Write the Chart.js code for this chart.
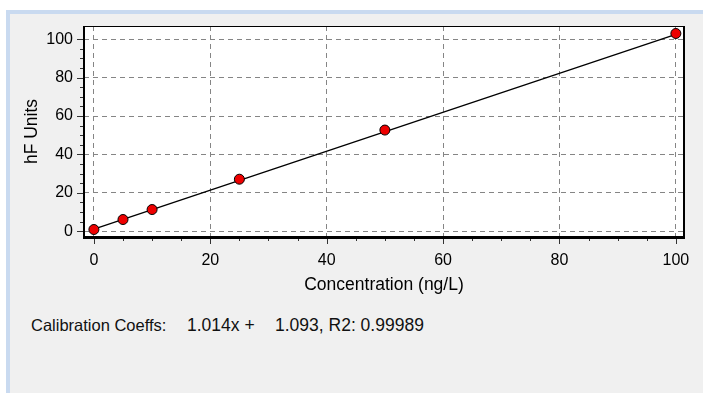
<!DOCTYPE html>
<html>
<head>
<meta charset="utf-8">
<script src="https://cdn.jsdelivr.net/npm/chart.js@4"></script>
<style>
  html, body { margin: 0; padding: 0; background: #fff; }
  body { width: 706px; height: 393px; position: relative; overflow: hidden; font-family: 'Liberation Sans', Arial, sans-serif; }
  .panel { position: absolute; left: 6px; top: 10px; width: 697px; height: 383px; background: #f0f0f0;
           border-top: 4px solid #c9daf0; border-left: 4px solid #c9daf0; box-sizing: border-box; }
  .wrap { position: absolute; left: 0; top: 0; width: 706px; height: 300px; }
  .coef { position: absolute; top: 316px; font-size: 16.5px; color: #111; white-space: pre; }
  .num { font-size: 17.5px; top: 315px; }
</style>
</head>
<body>
<div class="panel"></div>
<div class="wrap"><canvas id="cal"></canvas></div>
<div class="coef" style="left:31px">Calibration Coeffs:</div>
<div class="coef num" style="left:187px">1.014x +</div>
<div class="coef num" style="left:275px">1.093, R2: 0.99989</div>
<script>
  // standards (ng/L) and measured response
  const concentrations = [0, 5, 10, 25, 50, 100];
  const responses = [0.9, 6.1, 11.3, 27.1, 52.7, 103];
  // fitted calibration line end points
  const fitX = [0, 100];
  const fitY = [1.09, 102.5];
  const xTicks = [0, 20, 40, 60, 80, 100];
  const yTicks = [0, 20, 40, 60, 80, 100];
  const minorStep = 5;

  const $ = (id) => document.getElementById(id);
  const tickFont = { family: "'Liberation Sans', Arial, sans-serif", size: 16 };
  const titleFont = { family: "'Liberation Sans', Arial, sans-serif", size: 17.5 };

  // white plot area + frame + outside tick marks
  const frame = {
    id: 'frame',
    beforeDraw(c) {
      const a = c.chartArea, ctx = c.ctx;
      ctx.save();
      ctx.fillStyle = '#fff';
      ctx.fillRect(a.left, a.top, a.right - a.left, a.bottom - a.top);
      ctx.restore();
    },
    afterDraw(c) {
      const a = c.chartArea, ctx = c.ctx;
      const xs = c.scales.x, ys = c.scales.y;
      ctx.save();
      ctx.strokeStyle = '#333';
      ctx.lineWidth = 1;
      ctx.beginPath();
      for (let v = 0; v <= 100; v += minorStep) {
        const len = v % 20 === 0 ? 7 : 4;
        const px = Math.round(xs.getPixelForValue(v)) + 0.5;
        ctx.moveTo(px, a.bottom); ctx.lineTo(px, a.bottom + len);
        const py = Math.round(ys.getPixelForValue(v)) + 0.5;
        ctx.moveTo(a.left, py); ctx.lineTo(a.left - len, py);
      }
      ctx.stroke();
      ctx.fillStyle = '#000';
      ctx.fillRect(a.left, a.top, a.right - a.left, 1);
      ctx.fillRect(a.left - 1, a.top, 2, a.bottom - a.top + 2);
      ctx.fillRect(a.right - 1, a.top, 2, a.bottom - a.top + 2);
      ctx.fillRect(a.left - 1, a.bottom - 1, a.right - a.left + 2, 3);
      ctx.restore();
    },
  };

  new Chart($('cal'), {
    type: 'scatter',
    data: {
      datasets: [
        {
          type: 'line',
          data: fitX.map((x, i) => ({ x, y: fitY[i] })),
          borderColor: '#000',
          borderWidth: 1.3,
          pointRadius: 0,
          fill: false,
          order: 2,
        },
        {
          data: concentrations.map((x, i) => ({ x, y: responses[i] })),
          backgroundColor: '#ee0000',
          borderColor: '#000',
          borderWidth: 1,
          pointRadius: 5,
          order: 1,
        },
      ],
    },
    options: {
      responsive: true,
      maintainAspectRatio: false,
      animation: false,
      layout: { padding: { top: 26, right: 22, left: 0, bottom: 0 } },
      plugins: { legend: { display: false }, tooltip: { enabled: false } },
      scales: {
        x: {
          type: 'linear',
          min: -1.7, max: 101.4,
          afterBuildTicks: (s) => { s.ticks = xTicks.map((value) => ({ value })); },
          afterFit: (s) => { s.height = 63; },
          border: { display: false, dash: [5, 4] },
          grid: { color: '#858585', lineWidth: 1, drawTicks: false },
          ticks: { color: '#000', font: tickFont, padding: 14, maxRotation: 0 },
          title: { display: true, text: 'Concentration (ng/L)', color: '#000',
                   font: titleFont, padding: { top: 0, bottom: 4 } },
        },
        y: {
          min: -3, max: 106.9,
          afterBuildTicks: (s) => { s.ticks = yTicks.map((value) => ({ value })); },
          afterFit: (s) => { s.width = 84; },
          border: { display: false, dash: [5, 4] },
          grid: { color: '#858585', lineWidth: 1, drawTicks: false },
          ticks: { color: '#000', font: tickFont, padding: 11 },
          title: { display: true, text: 'hF Units', color: '#000',
                   font: titleFont, padding: { top: 22, bottom: 0 } },
        },
      },
    },
    plugins: [frame],
  });
</script>
</body>
</html>
